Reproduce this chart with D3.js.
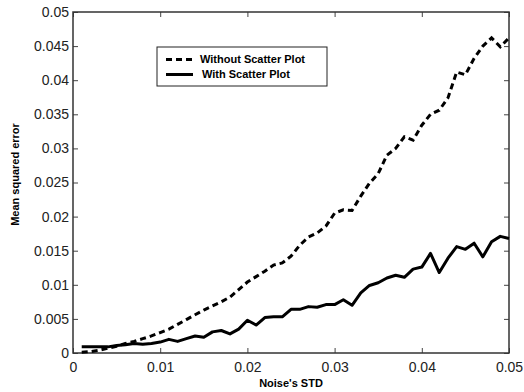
<!DOCTYPE html>
<html>
<head>
<meta charset="utf-8">
<script src="https://cdn.jsdelivr.net/npm/d3@7"></script>
<style>
  body { margin: 0; background: #fff; }
  text { font-family: "Liberation Sans", Arial, sans-serif; }
</style>
</head>
<body>
<script>
var width = 524,
    height = 392;

var margin = ({top: 12, right: 15, bottom: 39, left: 73}),
    iwidth = width - margin.left - margin.right,
    iheight = height - margin.top - margin.bottom;

// noise std values 0.001 .. 0.05
var noiseStd = [
  0.001, 0.002, 0.003, 0.004, 0.005, 0.006, 0.007, 0.008, 0.009, 0.010,
  0.011, 0.012, 0.013, 0.014, 0.015, 0.016, 0.017, 0.018, 0.019, 0.020,
  0.021, 0.022, 0.023, 0.024, 0.025, 0.026, 0.027, 0.028, 0.029, 0.030,
  0.031, 0.032, 0.033, 0.034, 0.035, 0.036, 0.037, 0.038, 0.039, 0.040,
  0.041, 0.042, 0.043, 0.044, 0.045, 0.046, 0.047, 0.048, 0.049, 0.050
];

var withoutScatter = [
  0.0001, 0.0002, 0.0004, 0.0007, 0.0010, 0.0014, 0.0017, 0.0021, 0.0025, 0.0030,
  0.0035, 0.0042, 0.0049, 0.0056, 0.0063, 0.0069, 0.0075, 0.0082, 0.0093, 0.0104,
  0.0112, 0.0120, 0.0129, 0.0132, 0.0142, 0.0158, 0.0170, 0.0176, 0.0186, 0.0205,
  0.0210, 0.0209, 0.0230, 0.0249, 0.0263, 0.0290, 0.0300, 0.0317, 0.0312, 0.0334,
  0.0350, 0.0356, 0.0374, 0.0412, 0.0408, 0.0432, 0.0450, 0.0462, 0.0449, 0.0462
];

var withScatter = [
  0.0009, 0.0009, 0.0009, 0.0009, 0.0011, 0.0012, 0.0014, 0.0013, 0.0014, 0.0016,
  0.0020, 0.0017, 0.0021, 0.0025, 0.0023, 0.0031, 0.0033, 0.0028, 0.0035, 0.0048,
  0.0041, 0.0052, 0.0053, 0.0053, 0.0064, 0.0064, 0.0068, 0.0067, 0.0071, 0.0071,
  0.0078, 0.0070, 0.0088, 0.0099, 0.0103, 0.0110, 0.0114, 0.0111, 0.0123, 0.0126,
  0.0146, 0.0118, 0.0139, 0.0156, 0.0152, 0.0161, 0.0141, 0.0163, 0.0171, 0.0168
];

var xTicks = [0, 0.01, 0.02, 0.03, 0.04, 0.05];
var yTicks = [0, 0.005, 0.01, 0.015, 0.02, 0.025, 0.03, 0.035, 0.04, 0.045, 0.05];

var seriesNames = ["Without Scatter Plot", "With Scatter Plot"];
var xlabel = "Noise's STD",
    ylabel = "Mean squared error";

var xScale = d3.scaleLinear().domain([0, 0.05]).range([0, iwidth]);
var yScale = d3.scaleLinear().domain([0, 0.05]).range([iheight, 0]);

var svg = d3.select("body")
    .append("svg")
    .attr("width", width)
    .attr("height", height);

var g = svg.append("g")
    .attr("transform", "translate(" + margin.left + "," + margin.top + ")");

var fmt = function(d) { return d === 0 ? "0" : String(+d.toFixed(3)); };

// axes, matlab style: ticks inside on all sides
function styleAxis(sel) {
    sel.select(".domain").remove();
    sel.selectAll("line").attr("stroke", "#444");
    sel.selectAll("text")
        .attr("fill", "#222")
        .style("font-size", "14px");
}

g.append("g")
    .attr("transform", "translate(0," + iheight + ")")
    .call(d3.axisBottom(xScale).tickValues(xTicks).tickFormat(fmt).tickSizeInner(-5).tickSizeOuter(0).tickPadding(9))
    .call(styleAxis);

g.append("g")
    .call(d3.axisTop(xScale).tickValues(xTicks).tickFormat("").tickSizeInner(-5).tickSizeOuter(0))
    .call(styleAxis);

g.append("g")
    .call(d3.axisLeft(yScale).tickValues(yTicks).tickFormat(fmt).tickSizeInner(-5).tickSizeOuter(0).tickPadding(4))
    .call(styleAxis);

g.append("g")
    .attr("transform", "translate(" + iwidth + ",0)")
    .call(d3.axisRight(yScale).tickValues(yTicks).tickFormat("").tickSizeInner(-5).tickSizeOuter(0))
    .call(styleAxis);

// box
g.append("rect")
    .attr("width", iwidth)
    .attr("height", iheight)
    .attr("fill", "none")
    .attr("stroke", "#333")
    .attr("stroke-width", 1.5);

// lines
var line = function(vals) {
    return d3.line()
        .x(function(d, i) { return xScale(noiseStd[i]); })
        .y(function(d) { return yScale(d); })(vals);
};

g.append("path")
    .attr("d", line(withoutScatter))
    .attr("fill", "none")
    .attr("stroke", "#000")
    .attr("stroke-width", 3)
    .attr("stroke-dasharray", "6,4");

g.append("path")
    .attr("d", line(withScatter))
    .attr("fill", "none")
    .attr("stroke", "#000")
    .attr("stroke-width", 3)
    .attr("stroke-linejoin", "round");

// legend
var leg = svg.append("g").attr("transform", "translate(157,47)");

leg.append("rect")
    .attr("width", 170)
    .attr("height", 39)
    .attr("fill", "#fff")
    .attr("stroke", "#222")
    .attr("stroke-width", 1);

leg.append("line")
    .attr("x1", 9).attr("x2", 36)
    .attr("y1", 12.5).attr("y2", 12.5)
    .attr("stroke", "#000")
    .attr("stroke-width", 3)
    .attr("stroke-dasharray", "6,4");

leg.append("line")
    .attr("x1", 9).attr("x2", 36)
    .attr("y1", 27.5).attr("y2", 27.5)
    .attr("stroke", "#000")
    .attr("stroke-width", 3);

leg.selectAll("text.leg")
    .data(seriesNames)
    .enter()
    .append("text")
    .attr("class", "leg")
    .attr("x", function(d, i) { return i === 0 ? 43 : 45; })
    .attr("y", function(d, i) { return 16 + i * 15; })
    .style("font-size", "11px")
    .style("font-weight", "bold")
    .text(function(d) { return d; });

// axis labels
svg.append("text")
    .attr("x", margin.left + iwidth / 2)
    .attr("y", 387)
    .attr("text-anchor", "middle")
    .style("font-size", "11px")
    .style("font-weight", "bold")
    .text(xlabel);

svg.append("text")
    .attr("transform", "translate(19," + (margin.top + iheight / 2 - 8) + ") rotate(-90)")
    .attr("text-anchor", "middle")
    .style("font-size", "11px")
    .style("font-weight", "bold")
    .text(ylabel);
</script>
</body>
</html>
